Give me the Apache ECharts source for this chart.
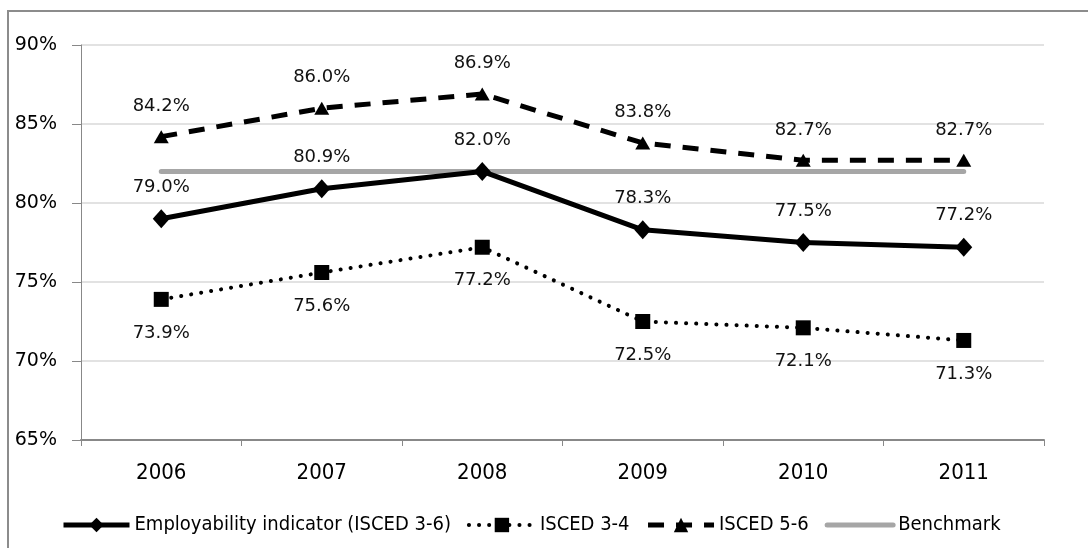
<!DOCTYPE html>
<html>
<head>
<meta charset="utf-8">
<script src="https://cdn.jsdelivr.net/npm/echarts@6/dist/echarts.min.js"></script>
<style>
  html, body { margin: 0; padding: 0; background: #fff; }
  #chart { width: 1088px; height: 548px; }
</style>
</head>
<body>
<div id="chart"></div>
<script>
const years = ['2006', '2007', '2008', '2009', '2010', '2011'];
const employability = [79.0, 80.9, 82.0, 78.3, 77.5, 77.2];
const isced34 = [73.9, 75.6, 77.2, 72.5, 72.1, 71.3];
const isced56 = [84.2, 86.0, 86.9, 83.8, 82.7, 82.7];
const benchmark = [82, 82, 82, 82, 82, 82];

const pct = p => p.value.toFixed(1) + '%';
const labelFont = { fontFamily: 'DejaVu Sans', fontSize: 18, color: '#111' };

let myChart = echarts.init(document.getElementById('chart'));
myChart.setOption({
    animation: false,
    backgroundColor: '#fff',
    graphic: [{
        type: 'rect',
        shape: { x: 8, y: 11, width: 1200, height: 700 },
        style: { fill: 'none', stroke: '#8c8c8c', lineWidth: 2 }
    }],
    grid: { left: 81, right: 44, top: 45, bottom: 108 },
    legend: {
        top: 510,
        left: 56,
        itemWidth: 66,
        itemHeight: 18,
        itemGap: 16,
        textStyle: { fontFamily: 'DejaVu Sans Condensed', fontSize: 20, color: '#000' },
        data: [
            { name: 'Employability indicator (ISCED 3-6)', lineStyle: { width: 5 } },
            { name: 'ISCED 3-4', lineStyle: { width: 4 } },
            { name: 'ISCED 5-6', lineStyle: { width: 5 } },
            { name: 'Benchmark', lineStyle: { width: 5 }, itemStyle: { opacity: 0 } }
        ]
    },
    xAxis: {
        type: 'category',
        data: years,
        boundaryGap: true,
        axisLine: { lineStyle: { color: '#888', width: 2 } },
        axisTick: { show: true, length: 6, lineStyle: { color: '#888' } },
        axisLabel: { fontFamily: 'DejaVu Sans Condensed', fontSize: 22, color: '#000', margin: 22 },
        splitLine: { show: false }
    },
    yAxis: {
        type: 'value',
        min: 65,
        max: 90,
        interval: 5,
        axisLine: { show: true, lineStyle: { color: '#888', width: 1 } },
        axisTick: { show: true, length: 9, lineStyle: { color: '#888' } },
        axisLabel: { fontFamily: 'DejaVu Sans', fontSize: 19, color: '#000', margin: 24, formatter: '{value}%' },
        splitLine: { lineStyle: { color: '#d9d9d9', width: 1.5 } }
    },
    series: [
        {
            name: 'Employability indicator (ISCED 3-6)',
            type: 'line',
            data: employability,
            symbol: 'diamond',
            symbolSize: [17, 19],
            itemStyle: { color: '#000' },
            lineStyle: { color: '#000', width: 5 },
            label: { show: true, position: 'top', distance: 13, formatter: pct, ...labelFont },
            z: 4
        },
        {
            name: 'ISCED 3-4',
            type: 'line',
            data: isced34,
            symbol: 'rect',
            symbolSize: 15,
            itemStyle: { color: '#000' },
            lineStyle: { color: '#000', width: 4, type: [0.1, 10], cap: 'round' },
            label: { show: true, position: 'bottom', distance: 17, formatter: pct, ...labelFont },
            z: 4
        },
        {
            name: 'ISCED 5-6',
            type: 'line',
            data: isced56,
            symbol: 'triangle',
            symbolSize: [15, 13],
            itemStyle: { color: '#000' },
            lineStyle: { color: '#000', width: 5, type: [16, 12] },
            label: { show: true, position: 'top', distance: 15, formatter: pct, ...labelFont },
            z: 4
        },
        {
            name: 'Benchmark',
            type: 'line',
            data: benchmark,
            symbol: 'none',
            itemStyle: { color: '#a6a6a6' },
            lineStyle: { color: '#a6a6a6', width: 5, cap: 'round' },
            z: 3
        }
    ]
});
</script>
</body>
</html>
